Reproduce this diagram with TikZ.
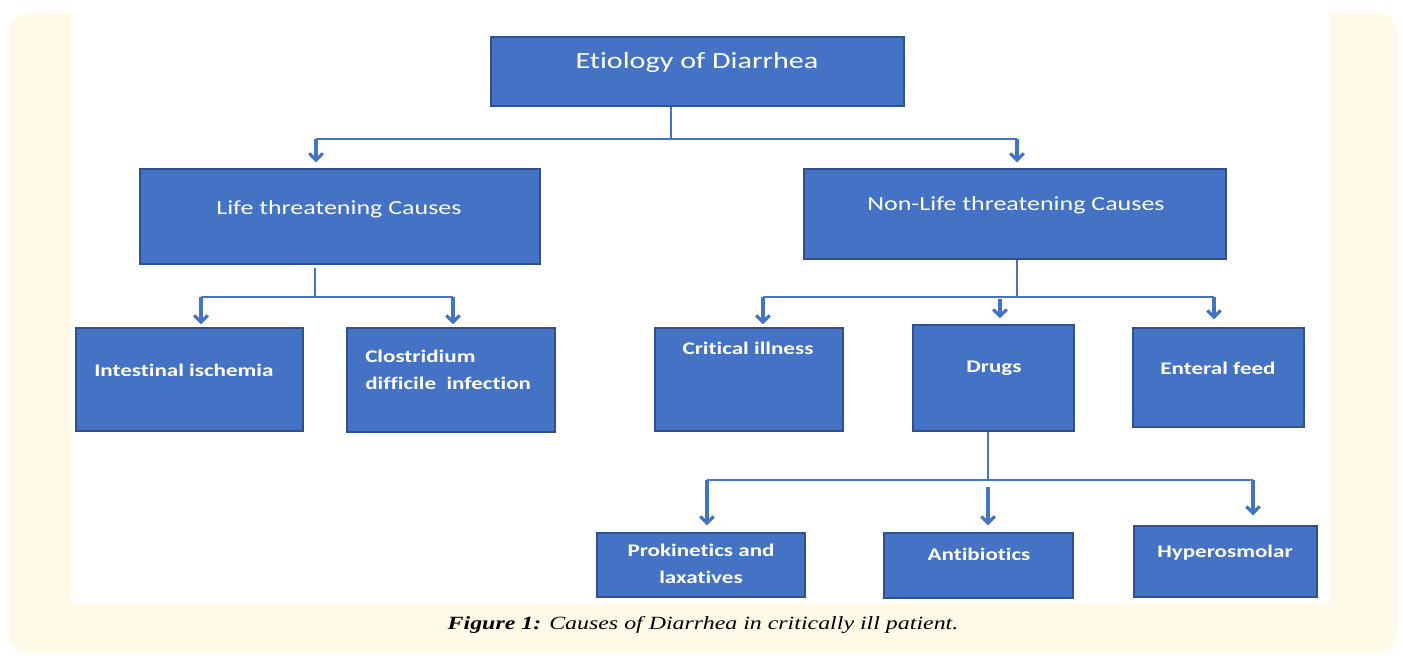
\documentclass[tikz,border=0pt]{standalone}
\usepackage{fontspec}
\usetikzlibrary{arrows.meta}
\newfontfamily\boxfont[FakeStretch=1.3,Ligatures=NoCommon]{Carlito}
\newfontfamily\capfont[FakeStretch=1.28]{Liberation Serif}
\definecolor{boxblue}{HTML}{4472C4}
\definecolor{boxedge}{HTML}{2F528F}
\definecolor{cream}{HTML}{FFFAE8}
\tikzset{
  box/.style={draw=boxedge, line width=1pt, fill=boxblue, inner sep=0pt},
  toptxt/.style={text=white, font=\boxfont\fontsize{17.4}{20}\selectfont, inner sep=0pt},
  midtxt/.style={text=white, font=\boxfont\fontsize{15}{18}\selectfont, inner sep=0pt},
  lowtxt/.style={text=white, font=\boxfont\bfseries\fontsize{13.3}{20}\selectfont, inner sep=0pt},
  thin/.style={draw=boxblue, line width=1.5pt},
  arr/.style={draw=boxblue, line width=2.4pt, -{Straight Barb[length=5pt,width=10pt,line width=2.4pt]}}
}
\begin{document}
\begin{tikzpicture}[x=0.75pt,y=-0.75pt]
\useasboundingbox (0,0) rectangle (1403,656);
\fill[cream, rounded corners=15pt] (9,13) rectangle (1397,653);
\fill[white] (71,0) rectangle (1329,603);

% boxes
\node[box, minimum width=413*0.75pt, minimum height=69*0.75pt] (etio) at (697.5,71.5) {};
\node[box, minimum width=400*0.75pt, minimum height=95*0.75pt] (life) at (340,216.5) {};
\node[box, minimum width=422*0.75pt, minimum height=90*0.75pt] (nonlife) at (1015,214) {};
\node[box, minimum width=227*0.75pt, minimum height=103*0.75pt] (isch) at (189.5,379.5) {};
\node[box, minimum width=208*0.75pt, minimum height=104*0.75pt] (clos) at (451,380) {};
\node[box, minimum width=188*0.75pt, minimum height=103*0.75pt] (crit) at (749,379.5) {};
\node[box, minimum width=161*0.75pt, minimum height=106*0.75pt] (drugs) at (993.5,378) {};
\node[box, minimum width=171*0.75pt, minimum height=99*0.75pt] (enteral) at (1218.5,377.5) {};
\node[box, minimum width=208*0.75pt, minimum height=64*0.75pt] (prok) at (701,565) {};
\node[box, minimum width=189*0.75pt, minimum height=65*0.75pt] (anti) at (978.5,565.5) {};
\node[box, minimum width=183*0.75pt, minimum height=71*0.75pt] (hyper) at (1225.5,561.5) {};

% texts
\node[toptxt] (etio-t) at (697,62) {Etiology of Diarrhea};
\node[midtxt] (life-t) at (339,209) {Life threatening Causes};
\node[midtxt] (nonlife-t) at (1016,205) {Non-Life threatening Causes};
\node[lowtxt, anchor=west] (isch-t) at (94,370) {Intestinal ischemia};
\node[lowtxt, anchor=west, align=left] (clos-t) at (365,370) {Clostridium\\difficile\ \ infection};
\node[lowtxt] (crit-t) at (748,348) {Critical illness};
\node[lowtxt] (drugs-t) at (994,368) {Drugs};
\node[lowtxt] (enteral-t) at (1218,368) {Enteral feed};
\node[lowtxt, align=center] (prok-t) at (701,564) {Prokinetics and\\laxatives};
\node[lowtxt] (anti-t) at (979,554) {Antibiotics};
\node[lowtxt] (hyper-t) at (1225,553) {Hyperosmolar};

% caption
\node[font=\capfont\fontsize{14}{17}\selectfont, inner sep=0pt] (cap) at (703,625) {\textbf{\textit{Figure 1:}} \textit{Causes of Diarrhea in critically ill patient.}};

% connectors level 1
\coordinate (j0) at (671,139);
\coordinate (h0l) at (316,139);
\coordinate (h0r) at (1017,139);
\draw[thin] (etio.south -| j0) -- (j0);
\draw[thin] (h0l) -- (h0r);
\draw[arr] (h0l) -- ([yshift=6*0.75pt]h0l |- life.north);
\draw[arr] (h0r) -- ([yshift=6*0.75pt]h0r |- nonlife.north);

% level 2 left
\coordinate (j1) at (315,297);
\coordinate (s1) at (315,268);
\coordinate (h1l) at (201,297);
\coordinate (h1r) at (453,297);
\draw[thin] (s1) -- (j1);
\draw[thin] (h1l) -- (h1r);
\draw[arr] (h1l) -- ([yshift=3*0.75pt]h1l |- isch.north);
\draw[arr] (h1r) -- ([yshift=3*0.75pt]h1r |- clos.north);

% level 2 right
\coordinate (j2) at (1017,297);
\coordinate (h2l) at (763,297);
\coordinate (h2r) at (1214,297);
\coordinate (a2m) at (1000,299);
\draw[thin] (nonlife.south -| j2) -- (j2);
\draw[thin] (h2l) -- (h2r);
\draw[arr] (h2l) -- ([yshift=3*0.75pt]h2l |- crit.north);
\draw[arr] (a2m) -- ([yshift=6*0.75pt]a2m |- drugs.north);
\draw[arr] (h2r) -- ([yshift=8*0.75pt]h2r |- enteral.north);

% level 3
\coordinate (j3) at (988,480);
\coordinate (h3l) at (707,480);
\coordinate (h3r) at (1253,480);
\coordinate (a3m) at (988,487);
\draw[thin] (drugs.south -| j3) -- (j3);
\draw[thin] (h3l) -- (h3r);
\draw[arr] (h3l) -- ([yshift=7*0.75pt]h3l |- prok.north);
\draw[arr] (a3m) -- ([yshift=7*0.75pt]a3m |- anti.north);
\draw[arr] (h3r) -- ([yshift=10*0.75pt]h3r |- hyper.north);
\end{tikzpicture}
\end{document}
